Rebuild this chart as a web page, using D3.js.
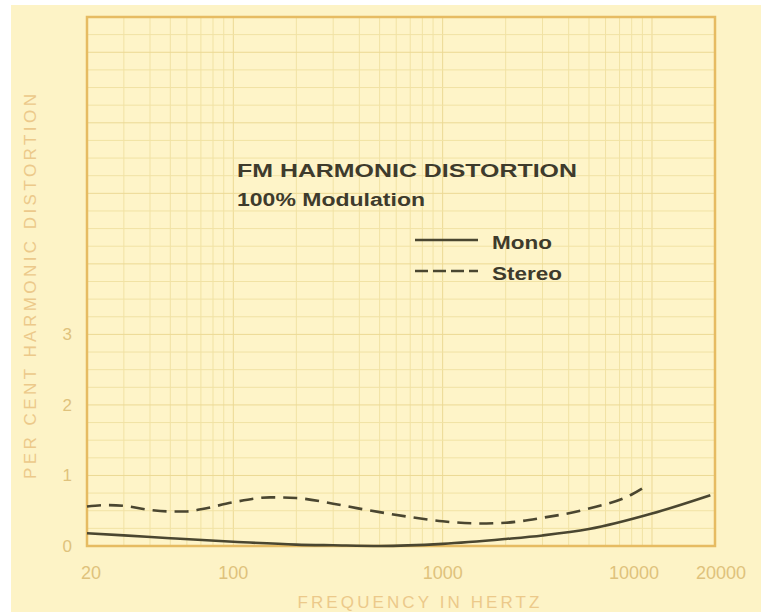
<!doctype html>
<head>
  <style>
    html, body {
      margin: 0;
      padding: 0;
      width: 761px;
      height: 612px;
      background: #ffffff;
    }
    svg {
      display: block;
      font-family: "Liberation Sans", Arial, sans-serif;
    }
    .grid line {
      stroke: #f1e2a4;
      stroke-width: 1px;
    }
    .grid line.major {
      stroke: #ecd994;
    }
    .tick-label {
      fill: #dfc27c;
      font-size: 18px;
    }
    .axis-title {
      fill: #ecc98a;
      font-size: 17px;
      letter-spacing: 1px;
    }
    .curve {
      fill: none;
      stroke: #4a4630;
      stroke-width: 2.6px;
    }
    .note {
      fill: #3e3b2c;
      font-weight: bold;
    }
  </style>
  <script src="https://d3js.org/d3.v7.min.js"></script>
</head>

<body>
  <svg id="chart" width="761" height="612"></svg>

  <script>
    // frequency points and percent distortion
    var monoFreq   = [20, 30, 50, 100, 200, 300, 500, 1000, 2000, 3000, 5000, 10000, 19000];
    var monoValue  = [0.18, 0.15, 0.11, 0.06, 0.02, 0.01, 0.0, 0.03, 0.1, 0.15, 0.24, 0.46, 0.72];

    var stereoFreq  = [20, 25, 30, 40, 50, 60, 70, 100, 150, 200, 300, 400, 500, 700,
                       1000, 1500, 2000, 3000, 5000, 8000, 9500];
    var stereoValue = [0.56, 0.58, 0.57, 0.51, 0.49, 0.49, 0.52, 0.62, 0.69, 0.68, 0.6, 0.53,
                       0.48, 0.41, 0.35, 0.32, 0.33, 0.4, 0.53, 0.73, 0.86];

    var xTickValues = [20, 100, 1000, 10000, 20000];
    var yTickValues = [0, 1, 2, 3];

    var svg = d3.select('#chart');
    var plotLeft = 87, plotRight = 715, plotTop = 17, plotBottom = 546;

    // paper background (white strip on the left and top edges like the scan)
    svg.append('rect')
        .attr('x', 11).attr('y', 5)
        .attr('width', 750).attr('height', 607)
        .attr('fill', '#fdf3c6');

    var x = d3.scaleLog().domain([20, 20000]).range([plotLeft, plotRight]);
    var y = d3.scaleLinear().domain([0, 7.5]).range([plotBottom, plotTop]);

    svg.append('rect')
        .attr('x', plotLeft).attr('y', plotTop)
        .attr('width', plotRight - plotLeft).attr('height', plotBottom - plotTop)
        .attr('fill', '#fef4c8');

    // log grid: 20..100, 100..1000, ...
    var vLines = [];
    [10, 100, 1000, 10000].forEach(function(dec) {
      for (var k = 1; k < 10; k++) {
        var f = dec * k;
        if (f > 20 && f < 20000) vLines.push(f);
      }
    });
    var hLines = d3.range(1, 30).map(function(i) { return i * 0.25; });

    var grid = svg.append('g').attr('class', 'grid');
    grid.selectAll('line.v')
        .data(vLines)
        .enter().append('line')
        .attr('class', function(d) { return [100, 1000, 10000].indexOf(d) >= 0 ? 'v major' : 'v'; })
        .attr('x1', x).attr('x2', x)
        .attr('y1', plotTop).attr('y2', plotBottom);
    grid.selectAll('line.h')
        .data(hLines)
        .enter().append('line')
        .attr('class', function(d) { return d % 1 === 0 ? 'h major' : 'h'; })
        .attr('x1', plotLeft).attr('x2', plotRight)
        .attr('y1', y).attr('y2', y);

    // frame
    svg.append('rect')
        .attr('x', plotLeft).attr('y', plotTop)
        .attr('width', plotRight - plotLeft).attr('height', plotBottom - plotTop)
        .attr('fill', 'none')
        .attr('stroke', '#e6bb62')
        .attr('stroke-width', 2.5);

    // tick labels
    var xLabelShift = {20: 4, 100: 0, 1000: 0, 10000: -18, 20000: 6};
    svg.selectAll('text.xt')
        .data(xTickValues)
        .enter().append('text')
        .attr('class', 'tick-label xt')
        .attr('x', function(d) { return x(d) + xLabelShift[d]; })
        .attr('y', 579)
        .attr('text-anchor', 'middle')
        .text(function(d) { return d; });

    svg.selectAll('text.yt')
        .data(yTickValues)
        .enter().append('text')
        .attr('class', 'tick-label yt')
        .style('font-size', '17px')
        .attr('x', 72)
        .attr('y', function(d) { return y(d) + 6; })
        .attr('text-anchor', 'end')
        .text(function(d) { return d; });

    svg.append('text')
        .attr('class', 'axis-title')
        .attr('x', 419).attr('y', 608)
        .attr('text-anchor', 'middle')
        .attr('textLength', 243)
        .text('FREQUENCY IN HERTZ');

    svg.append('text')
        .attr('class', 'axis-title')
        .attr('transform', 'translate(36,286) rotate(-90)')
        .attr('text-anchor', 'middle')
        .attr('textLength', 386)
        .text('PER CENT HARMONIC DISTORTION');

    // curves
    var line = d3.line()
        .x(function(d) { return x(d[0]); })
        .y(function(d) { return y(d[1]); })
        .curve(d3.curveMonotoneX);

    svg.append('path')
        .attr('class', 'curve')
        .attr('d', line(d3.zip(monoFreq, monoValue)));

    svg.append('path')
        .attr('class', 'curve')
        .attr('stroke-dasharray', '14,8')
        .attr('d', line(d3.zip(stereoFreq, stereoValue)));

    // title block
    svg.append('text')
        .attr('class', 'note')
        .attr('x', 237).attr('y', 177)
        .style('font-size', '19px')
        .attr('textLength', 340)
        .attr('lengthAdjust', 'spacingAndGlyphs')
        .text('FM HARMONIC DISTORTION');

    svg.append('text')
        .attr('class', 'note')
        .attr('x', 237).attr('y', 206)
        .style('font-size', '18px')
        .attr('textLength', 188)
        .attr('lengthAdjust', 'spacingAndGlyphs')
        .text('100% Modulation');

    // legend
    var legend = [
      {name: 'Mono', dash: null, y: 240, width: 60},
      {name: 'Stereo', dash: '13,5', y: 271, width: 70}
    ];
    var lg = svg.selectAll('g.legend')
        .data(legend)
        .enter().append('g')
        .attr('class', 'legend');
    lg.append('line')
        .attr('class', 'curve')
        .attr('x1', 415).attr('x2', 478)
        .attr('y1', function(d) { return d.y; })
        .attr('y2', function(d) { return d.y; })
        .attr('stroke-dasharray', function(d) { return d.dash; });
    lg.append('text')
        .attr('class', 'note')
        .style('font-size', '18px')
        .attr('x', 492)
        .attr('y', function(d) { return d.y + 9; })
        .attr('textLength', function(d) { return d.width; })
        .attr('lengthAdjust', 'spacingAndGlyphs')
        .text(function(d) { return d.name; });
  </script>
</body>
